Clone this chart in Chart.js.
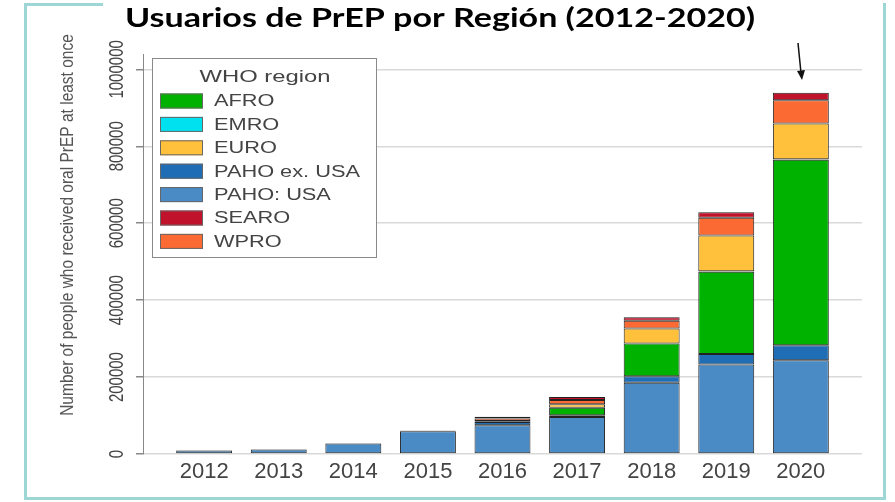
<!DOCTYPE html>
<html>
<head>
<meta charset="utf-8">
<script src="https://cdn.jsdelivr.net/npm/chart.js@4"></script>
<style>
  html, body { margin: 0; padding: 0; background: #fff; }
  #wrap { width: 895px; height: 502px; position: relative; }
</style>
</head>
<body>
<div id="wrap"><canvas id="prepChart" width="895" height="502"></canvas></div>
<script>
// Years on the x axis
const years = [2012, 2013, 2014, 2015, 2016, 2017, 2018, 2019, 2020];
// Values per WHO region, stacked bottom to top
const pahoUsa   = [9000, 12000, 27000, 59000, 75000, 96000, 185000, 233000, 244000];
const pahoExUsa = [500, 300, 500, 1000, 8000, 5000, 17000, 27000, 39000];
const afro      = [0, 0, 200, 500, 1000, 19000, 85000, 214000, 482000];
const emro      = [0, 0, 0, 0, 0, 500, 500, 1000, 1500];
const euro      = [0, 0, 300, 500, 2000, 9000, 39000, 93000, 93000];
const wpro      = [0, 0, 0, 0, 6000, 11000, 20000, 46000, 60000];
const searo     = [0, 0, 0, 0, 5000, 8000, 9000, 14500, 20000];
// Axis ticks
const yTicks = [0, 200000, 400000, 600000, 800000, 1000000];
const legendOrder = ['AFRO', 'EMRO', 'EURO', 'PAHO ex. USA', 'PAHO: USA', 'SEARO', 'WPRO'];

const chartTitle = 'Usuarios de PrEP por Región (2012-2020)';
const yTitle = 'Number of people who received oral PrEP at least once';
const legendTitle = 'WHO region';

function series(label, values, color) {
    return {
        label: label,
        data: years.map((yr, i) => ({ x: yr, y: values[i] })),
        backgroundColor: color,
        borderColor: '#222',
        borderWidth: 1,
        borderSkipped: false,
        barPercentage: 0.75,
        categoryPercentage: 1.0
    };
}

const datasets = [
    series('PAHO: USA', pahoUsa, '#4a8bc6'),
    series('PAHO ex. USA', pahoExUsa, '#1f6db4'),
    series('AFRO', afro, '#00b200'),
    series('EMRO', emro, '#00e1f0'),
    series('EURO', euro, '#ffc13b'),
    series('WPRO', wpro, '#fb6a32'),
    series('SEARO', searo, '#c1122b')
];

// the source picture is stretched sideways, so text gets a horizontal scale
function wideText(ctx, text, x, y, sx, sy) {
    ctx.save();
    ctx.translate(x, y);
    ctx.scale(sx, sy || 1);
    ctx.fillText(text, 0, 0);
    ctx.restore();
}

// Frame, title, rotated y labels and the legend box
const decorations = {
    id: 'decorations',
    beforeDraw(chart) {
        const ctx = chart.ctx;
        ctx.save();
        ctx.fillStyle = '#ffffff';
        ctx.fillRect(0, 0, chart.width, chart.height);
        ctx.strokeStyle = '#9ed5d5';
        ctx.lineWidth = 3;
        ctx.strokeRect(25.5, 4.5, 859, 494);
        ctx.fillStyle = '#ffffff';
        ctx.fillRect(103, 0, 780, 9);
        ctx.restore();
    },
    afterDraw(chart) {
        const ctx = chart.ctx;
        const yScale = chart.scales.y;
        ctx.save();
        // title
        ctx.fillStyle = '#000';
        ctx.font = 'bold 26px Lato';
        ctx.textAlign = 'center';
        ctx.textBaseline = 'alphabetic';
        wideText(ctx, chartTitle, 440, 27, 1.31);

        // y tick labels, rotated like the original
        ctx.fillStyle = '#444';
        ctx.font = '15px "Liberation Sans"';
        ctx.textBaseline = 'middle';
        yScale.ticks.forEach(t => {
            let py = yScale.getPixelForValue(t.value);
            ctx.save();
            ctx.translate(118, py);
            ctx.rotate(-Math.PI / 2);
            ctx.scale(1, 1.3);
            ctx.fillText(String(t.value), 0, 0);
            ctx.restore();
        });

        // y axis title
        ctx.save();
        ctx.font = '15.5px "Liberation Sans"';
        ctx.fillStyle = '#555';
        ctx.translate(68, 225);
        ctx.rotate(-Math.PI / 2);
        ctx.scale(1, 1.15);
        ctx.fillText(yTitle, 0, 0);
        ctx.restore();

        // arrow above 2020
        ctx.strokeStyle = '#111';
        ctx.fillStyle = '#111';
        ctx.lineWidth = 1.5;
        ctx.beginPath();
        ctx.moveTo(798, 43);
        ctx.lineTo(801, 73);
        ctx.stroke();
        ctx.beginPath();
        ctx.moveTo(797, 71);
        ctx.lineTo(805, 70);
        ctx.lineTo(802, 80);
        ctx.closePath();
        ctx.fill();

        // legend
        ctx.fillStyle = '#fff';
        ctx.fillRect(152, 58, 224, 199);
        ctx.strokeStyle = '#8a8a8a';
        ctx.lineWidth = 1;
        ctx.strokeRect(152.5, 58.5, 224, 199);
        ctx.fillStyle = '#444';
        ctx.font = '17px "Liberation Sans"';
        ctx.textAlign = 'center';
        wideText(ctx, legendTitle, 265, 77, 1.4);
        ctx.font = '16px "Liberation Sans"';
        ctx.textAlign = 'left';
        legendOrder.forEach((name, i) => {
            let ds = chart.data.datasets.find(d => d.label === name);
            let cy = 101 + i * 23.4;
            ctx.fillStyle = ds.backgroundColor;
            ctx.fillRect(160, cy - 7.5, 43, 15);
            ctx.strokeStyle = '#666';
            ctx.strokeRect(160.5, cy - 7, 42, 14);
            ctx.fillStyle = '#444';
            wideText(ctx, name, 214, cy + 1, 1.36);
        });
        ctx.restore();
    }
};

new Chart(document.getElementById('prepChart'), {
    type: 'bar',
    data: { datasets: datasets },
    options: {
        responsive: false,
        animation: false,
        layout: {
            padding: { top: 54, left: 143, right: 33, bottom: 0 }
        },
        plugins: {
            legend: { display: false },
            tooltip: { enabled: false }
        },
        scales: {
            x: {
                type: 'linear',
                stacked: true,
                offset: false,
                min: 2011.18,
                max: 2020.82,
                afterBuildTicks: s => { s.ticks = years.map(v => ({ value: v })); },
                afterFit: s => { s.height = 48; },
                grid: { display: false, drawTicks: false },
                border: { display: false },
                ticks: {
                    padding: 5,
                    color: '#444',
                    font: { family: 'Liberation Sans', size: 22 },
                    callback: v => String(v)
                }
            },
            y: {
                stacked: true,
                min: 0,
                max: 1040000,
                afterBuildTicks: s => { s.ticks = yTicks.map(v => ({ value: v })); },
                afterFit: s => { s.width = 0; },
                grid: { color: '#d9d9d9', lineWidth: 1.5, tickLength: 7, tickColor: '#888' },
                border: { display: true, color: '#888', width: 1 },
                ticks: { display: false }
            }
        }
    },
    plugins: [decorations]
});
</script>
</body>
</html>
